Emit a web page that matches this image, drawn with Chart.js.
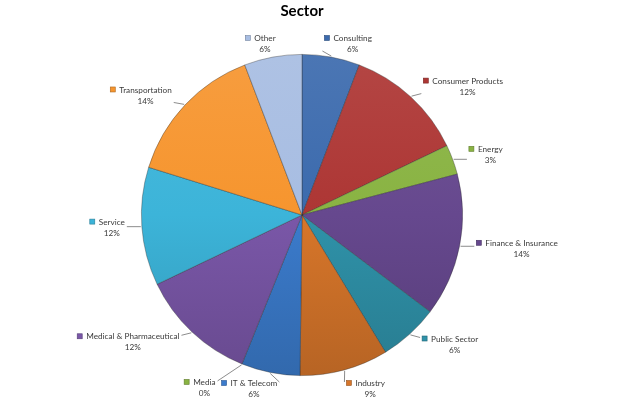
<!DOCTYPE html>
<html>
<head>
<meta charset="utf-8">
<script src="https://cdn.jsdelivr.net/npm/chart.js@4"></script>
<style>
  html, body { margin: 0; padding: 0; background: #ffffff; }
  #chart { display: block; }
</style>
</head>
<body>
<canvas id="chart" width="617" height="404"></canvas>
<script>
// data sektor
const sectors = [
  "Consulting",
  "Consumer Products",
  "Energy",
  "Finance & Insurance",
  "Public Sector",
  "Industry",
  "IT & Telecom",
  "Media",
  "Medical & Pharmaceutical",
  "Service",
  "Transportation",
  "Other",
];
const shares = [5.8, 12.1, 3.0, 14.4, 6.0, 8.9, 5.9, 0, 11.8, 11.9, 14.4, 5.8];
const sliceColors = [
  "#3b6aad", "#ad3634", "#89b342", "#66488e", "#2f92a9", "#d7762a",
  "#3b7bcc", "#89b342", "#7a57a8", "#3cb4d9", "#f6952e", "#a7bde2",
];

const labelFont = "8.2px Lato, 'Liberation Sans', sans-serif";
const textColor = "#3a3a3a";

// bikin warna lebih terang / gelap
function shade(hex, amt) {
  const n = parseInt(hex.slice(1), 16);
  let r = (n >> 16) & 255, g = (n >> 8) & 255, b = n & 255;
  const t = amt < 0 ? 0 : 255, p = Math.abs(amt);
  r = Math.round(r + (t - r) * p);
  g = Math.round(g + (t - g) * p);
  b = Math.round(b + (t - b) * p);
  return "rgb(" + r + "," + g + "," + b + ")";
}

// gradien vertikal: atas terang, bawah gelap
function sliceFill(context) {
  const chart = context.chart;
  const area = chart.chartArea;
  const base = sliceColors[context.dataIndex];
  if (!area) return base;
  const grad = chart.ctx.createLinearGradient(0, area.top, 0, area.bottom);
  grad.addColorStop(0, shade(base, 0.08));
  grad.addColorStop(0.5, base);
  grad.addColorStop(1, shade(base, -0.15));
  return grad;
}

// plugin label luar + garis penunjuk (gaya Excel)
const outsideLabels = {
  id: "outsideLabels",
  afterDatasetsDraw(chart) {
    const ctx = chart.ctx;
    const meta = chart.getDatasetMeta(0);
    const values = chart.data.datasets[0].data;
    const total = values.reduce((a, b) => a + b, 0);
    const gap = 14, lineH = 11, sq = 5;
    const topLimit = 33, bottomLimit = chart.height - 4;
    ctx.save();
    ctx.font = labelFont;
    const boxes = [];

    meta.data.forEach((arc, i) => {
      const p = arc.getProps(["x", "y", "startAngle", "endAngle", "outerRadius"], true);
      const mid = (p.startAngle + p.endAngle) / 2;
      const ux = Math.cos(mid), uy = Math.sin(mid);
      const name = chart.data.labels[i];
      const pct = Math.round((values[i] / total) * 100) + "%";
      const nameW = ctx.measureText(name).width;
      const w = sq + 4 + nameW;
      const h = lineH * 2;
      const Lx = p.x + (p.outerRadius + gap) * ux;
      const Ly = p.y + (p.outerRadius + gap) * uy;
      let cx = Lx + Math.max(-1, Math.min(1, ux * 3)) * (w / 2 + 3);
      let cy = Ly + (Math.abs(ux) < 0.5 ? Math.sign(uy) * h / 2 : 0);
      let box = { left: cx - w / 2, top: cy - h / 2, w: w, h: h };
      if (box.top < topLimit) box.top = topLimit;
      if (box.top + h > bottomLimit) box.top = bottomLimit - h;
      // hindari tumpang tindih dengan label sebelumnya
      boxes.forEach((o) => {
        const overlapX = box.left < o.left + o.w && box.left + box.w > o.left;
        const overlapY = box.top < o.top + o.h && box.top + box.h > o.top;
        if (overlapX && overlapY) {
          if (ux < 0) box.left = o.left - box.w - 6;
          else box.left = o.left + o.w + 6;
        }
      });
      box.ux = ux; box.uy = uy;
      box.ex = p.x + (p.outerRadius + 1) * ux;
      box.ey = p.y + (p.outerRadius + 1) * uy;
      box.name = name; box.pct = pct; box.nameW = nameW; box.color = sliceColors[i];
      boxes.push(box);
    });

    boxes.forEach((b) => {
      // garis penunjuk
      const ax = b.ux >= 0 ? b.left - 2 : b.left + b.w + 2;
      const ay = Math.max(b.top + 4, Math.min(b.top + b.h - 4, b.ey));
      if (Math.hypot(ax - b.ex, ay - b.ey) > 8) {
        ctx.strokeStyle = "#6f6f6f";
        ctx.lineWidth = 0.8;
        ctx.beginPath();
        ctx.moveTo(b.ex, b.ey);
        ctx.lineTo(ax, ay);
        ctx.stroke();
      }
      // kotak warna kecil
      const y1 = b.top + lineH / 2;
      ctx.fillStyle = b.color;
      ctx.fillRect(b.left, y1 - sq / 2 - 0.5, sq, sq);
      ctx.strokeStyle = shade(b.color, -0.3);
      ctx.lineWidth = 0.6;
      ctx.strokeRect(b.left, y1 - sq / 2 - 0.5, sq, sq);
      // teks
      ctx.fillStyle = textColor;
      ctx.textBaseline = "middle";
      ctx.textAlign = "left";
      const tx = b.left + sq + 4;
      ctx.fillText(b.name, tx, y1);
      ctx.textAlign = "center";
      ctx.fillText(b.pct, tx + b.nameW / 2, y1 + lineH);
    });
    ctx.restore();
  },
};

new Chart(document.getElementById("chart"), {
  type: "pie",
  data: {
    labels: sectors,
    datasets: [
      {
        data: shares,
        backgroundColor: sliceFill,
        borderColor: "rgba(40,40,40,0.45)",
        borderWidth: 0.8,
      },
    ],
  },
  options: {
    responsive: false,
    animation: false,
    devicePixelRatio: 1,
    layout: { padding: { top: 2, left: 0, right: 13, bottom: 28 } },
    plugins: {
      legend: { display: false },
      tooltip: { enabled: false },
      title: {
        display: true,
        text: "Sector",
        color: "#000000",
        font: { family: "Lato, 'Liberation Sans', sans-serif", size: 15, weight: "bold" },
        padding: { top: 0, bottom: 34 },
      },
    },
  },
  plugins: [outsideLabels],
});
</script>
</body>
</html>
